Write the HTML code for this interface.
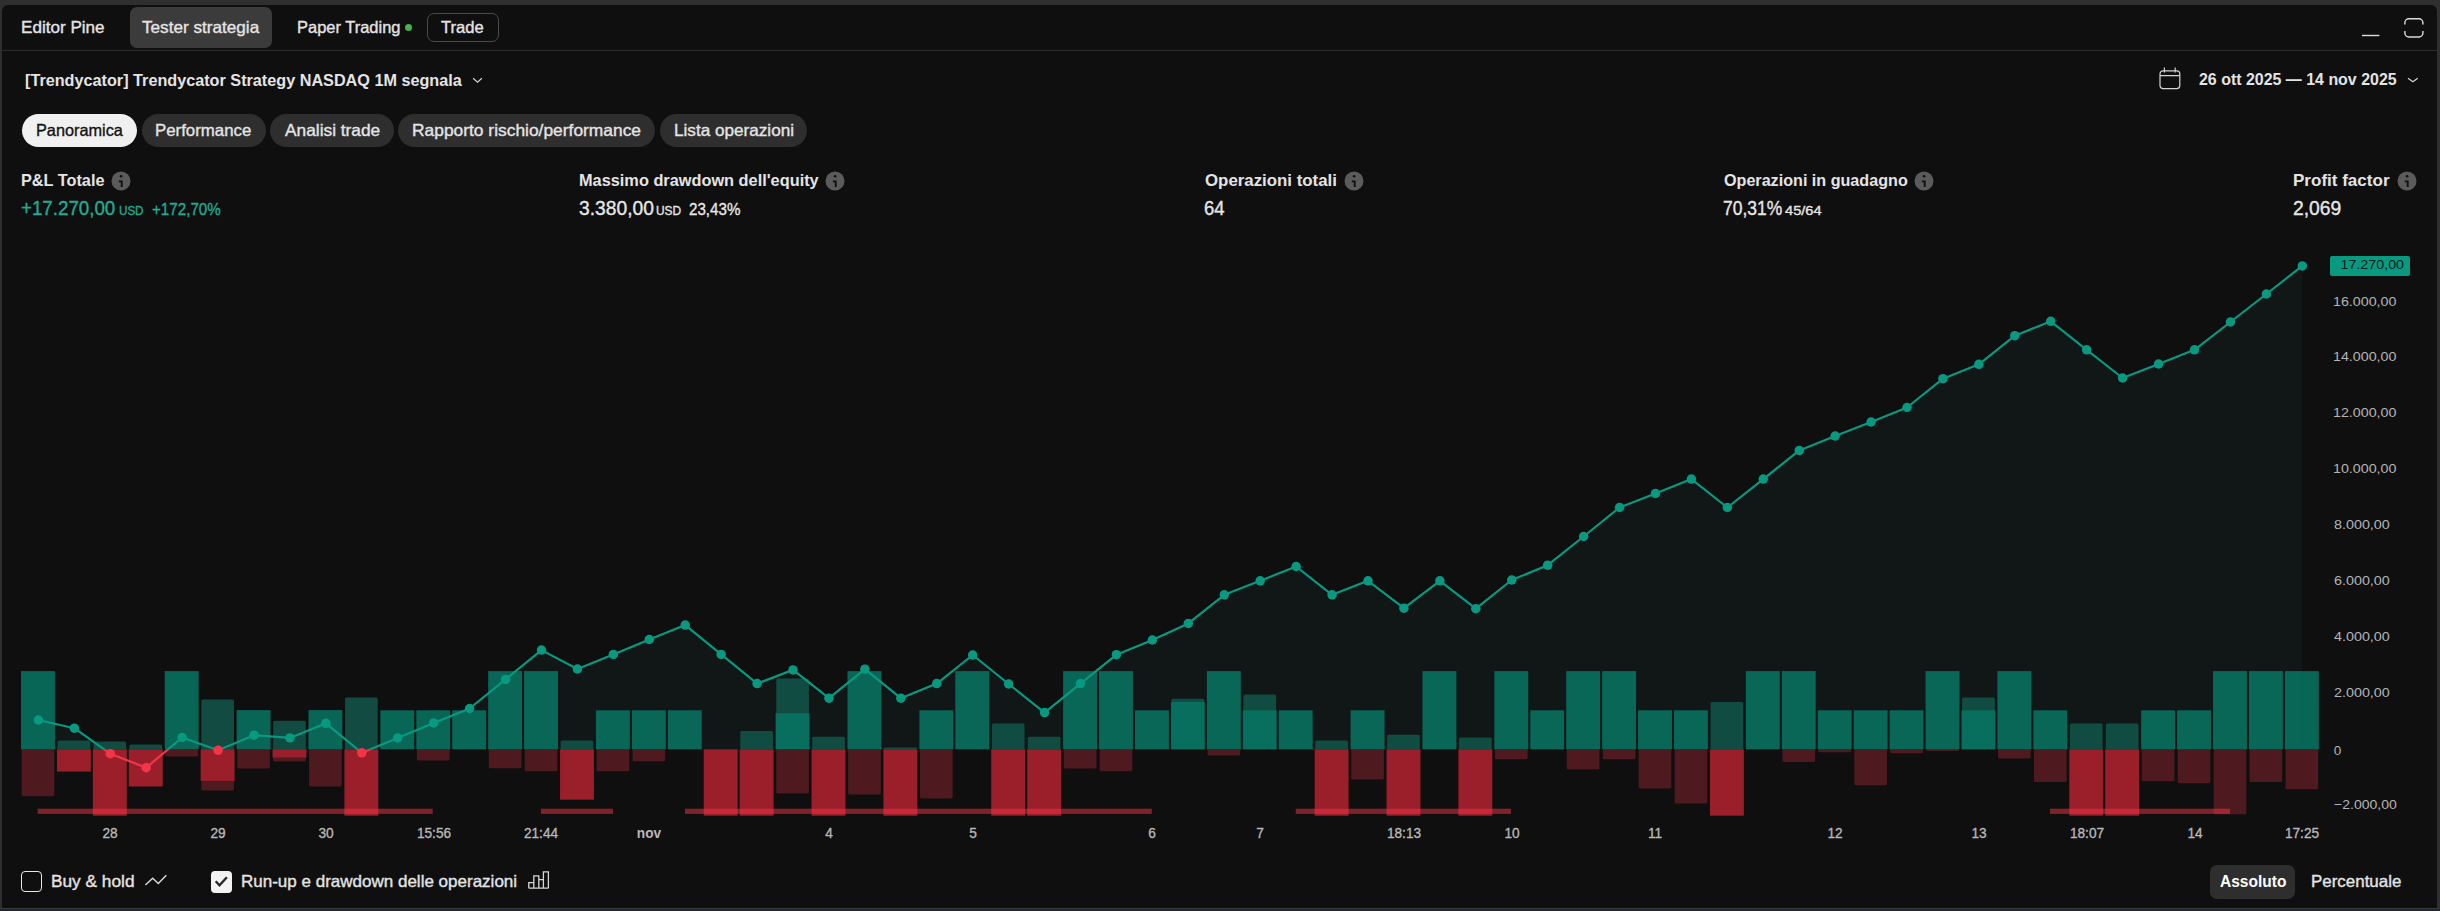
<!DOCTYPE html>
<html><head><meta charset="utf-8"><style>html,body{margin:0;padding:0;background:#2f2f2f;width:2440px;height:911px;overflow:hidden}
body{position:relative;font-family:"Liberation Sans",sans-serif}
.t{position:absolute;white-space:nowrap}
.r{-webkit-text-stroke:0.35px currentColor}</style></head><body>
<div style="position:absolute;left:2px;top:5px;width:2435px;height:903px;background:#0f0f0f;border-radius:6px 6px 0 0"></div>
<div style="position:absolute;left:0;top:907.8px;width:2440px;height:1.4px;background:#3a3a3a"></div>
<div style="position:absolute;left:0;top:909.2px;width:2440px;height:2px;background:#1c2839"></div>
<div style="position:absolute;left:2px;top:50px;width:2435px;height:1px;background:#2e2e2e"></div>
<div style="position:absolute;left:130px;top:7px;width:142px;height:41px;background:#3b3b3b;border-radius:7px"></div>
<div style="position:absolute;left:404.8px;top:23.9px;width:7.2px;height:7.2px;border-radius:50%;background:#4caf50"></div>
<div style="position:absolute;left:427px;top:13px;width:70px;height:27px;border:1px solid #4a4a4a;border-radius:7px"></div>
<svg style="position:absolute;left:2350px;top:10px" width="90" height="35" viewBox="0 0 90 35"><path d="M12 25.5h17.4" stroke="#dcdcdc" stroke-width="1.4"/><path d="M54.9 14.4V12.8A4 4 0 0 1 58.9 8.8H68.9A4 4 0 0 1 72.9 12.8V14.4 M54.9 20.9V23A4 4 0 0 0 58.9 27H68.9A4 4 0 0 0 72.9 23V20.9" fill="none" stroke="#dcdcdc" stroke-width="1.4"/></svg>
<svg style="position:absolute;left:470px;top:74px" width="14" height="12" viewBox="0 0 14 12"><path d="M3.1 4.3l4.4 3.8 4.4-3.8" fill="none" stroke="#d4d4d4" stroke-width="1.2"/></svg>
<svg style="position:absolute;left:2155px;top:64px" width="30" height="30" viewBox="0 0 30 30"><rect x="5" y="6.8" width="19.8" height="17.8" rx="3" fill="none" stroke="#d4d4d4" stroke-width="1.2"/><path d="M5 11.6h19.8 M9.4 3.6v5 M20.2 3.6v5" stroke="#d4d4d4" stroke-width="1.2"/></svg>
<svg style="position:absolute;left:2404px;top:72px" width="16" height="14" viewBox="0 0 16 14"><path d="M4 6.2l4.9 3.6 4.8-3.6" fill="none" stroke="#d4d4d4" stroke-width="1.2"/></svg>
<div style="position:absolute;left:22px;top:114px;width:115px;height:33px;border-radius:16.5px;background:#f0f0f0"></div>
<div style="position:absolute;left:142.1px;top:114px;width:123.5px;height:33px;border-radius:16.5px;background:#2e2e2e"></div>
<div style="position:absolute;left:270px;top:114px;width:123.5px;height:33px;border-radius:16.5px;background:#2e2e2e"></div>
<div style="position:absolute;left:398.1px;top:114px;width:256.6px;height:33px;border-radius:16.5px;background:#2e2e2e"></div>
<div style="position:absolute;left:660.2px;top:114px;width:146.8px;height:33px;border-radius:16.5px;background:#2e2e2e"></div>
<svg style="position:absolute;left:110.7px;top:170.7px" width="20" height="20" viewBox="0 0 20 20"><circle cx="10" cy="10" r="9.5" fill="#5b5b5b"/><circle cx="10.1" cy="5.3" r="1.3" fill="#0f0f0f"/><path d="M7.8 10.4H10.7V16.1" fill="none" stroke="#0f0f0f" stroke-width="1.9"/></svg>
<svg style="position:absolute;left:824.7px;top:170.7px" width="20" height="20" viewBox="0 0 20 20"><circle cx="10" cy="10" r="9.5" fill="#5b5b5b"/><circle cx="10.1" cy="5.3" r="1.3" fill="#0f0f0f"/><path d="M7.8 10.4H10.7V16.1" fill="none" stroke="#0f0f0f" stroke-width="1.9"/></svg>
<svg style="position:absolute;left:1343.6px;top:170.7px" width="20" height="20" viewBox="0 0 20 20"><circle cx="10" cy="10" r="9.5" fill="#5b5b5b"/><circle cx="10.1" cy="5.3" r="1.3" fill="#0f0f0f"/><path d="M7.8 10.4H10.7V16.1" fill="none" stroke="#0f0f0f" stroke-width="1.9"/></svg>
<svg style="position:absolute;left:1914px;top:170.7px" width="20" height="20" viewBox="0 0 20 20"><circle cx="10" cy="10" r="9.5" fill="#5b5b5b"/><circle cx="10.1" cy="5.3" r="1.3" fill="#0f0f0f"/><path d="M7.8 10.4H10.7V16.1" fill="none" stroke="#0f0f0f" stroke-width="1.9"/></svg>
<svg style="position:absolute;left:2396.7px;top:170.7px" width="20" height="20" viewBox="0 0 20 20"><circle cx="10" cy="10" r="9.5" fill="#5b5b5b"/><circle cx="10.1" cy="5.3" r="1.3" fill="#0f0f0f"/><path d="M7.8 10.4H10.7V16.1" fill="none" stroke="#0f0f0f" stroke-width="1.9"/></svg>
<div style="position:absolute;left:21px;top:871px;width:19px;height:19px;border:1.5px solid #e8e8e8;border-radius:4px"></div>
<svg style="position:absolute;left:140px;top:865px" width="30" height="30" viewBox="0 0 30 30"><path d="M5.4 20.1L12.7 13.2 18.3 18.4 26.3 10.2" fill="none" stroke="#dcdcdc" stroke-width="1.4"/></svg>
<div style="position:absolute;left:211px;top:871px;width:21px;height:22px;background:#f2f2f2;border-radius:4px"></div>
<svg style="position:absolute;left:205px;top:865px" width="30" height="30" viewBox="0 0 30 30"><path d="M10.7 16.3L14.5 20.3 21.9 12.2" fill="none" stroke="#262626" stroke-width="2.3"/></svg>
<svg style="position:absolute;left:520px;top:865px" width="40" height="30" viewBox="0 0 40 30" fill="none" stroke="#d8d8d8" stroke-width="1.3"><path d="M8.8 23.2V17.6h5v5.6 M13.8 23.2V10.8h5v12.4 M18.8 23.2V14.6h4.6v8.6 M23.4 23.2V6.8h5v16.4 M8.8 23.2h19.6"/></svg>
<div style="position:absolute;left:2210px;top:865px;width:85px;height:34px;background:#2e2e2e;border-radius:7px"></div>
<svg class="chart" width="2440" height="911" viewBox="0 0 2440 911" style="position:absolute;left:0;top:0">
<defs><linearGradient id="gb" gradientUnits="userSpaceOnUse" x1="0" y1="671" x2="0" y2="749"><stop offset="0" stop-color="#0a6d5c"/><stop offset="1" stop-color="#076253"/></linearGradient><clipPath id="cu"><rect x="0" y="0" width="2440" height="749.3"/></clipPath><clipPath id="cd"><rect x="0" y="749.3" width="2440" height="300"/></clipPath></defs>
<polygon points="38.4,749.3 38.4,720 74.34,728.2 110.27,753.7 146.21,767.7 182.14,737.5 218.08,750.2 254.01,735.2 289.94,737.9 325.88,723.3 361.81,752.8 397.75,737.9 433.69,722.9 469.62,708.5 505.56,679.4 541.49,650.1 577.43,669 613.36,654.4 649.29,639.5 685.23,625.1 721.17,654.4 757.1,683.6 793.03,669.9 828.97,698.2 864.91,669.2 900.84,698.2 936.77,683.6 972.71,655 1008.65,684 1044.58,712.6 1080.52,683.6 1116.45,654.7 1152.39,640 1188.32,623.4 1224.26,594.8 1260.19,580.8 1296.13,566.5 1332.06,594.8 1368,580.8 1403.93,608.2 1439.87,580.8 1475.8,608.7 1511.74,580 1547.67,565.2 1583.61,536.5 1619.54,507.5 1655.48,493.5 1691.41,479.1 1727.35,507.5 1763.28,479.1 1799.22,450.4 1835.15,436 1871.09,422 1907.02,407.5 1942.96,378.7 1978.89,364.3 2014.83,335.7 2050.76,321.3 2086.7,349.8 2122.63,378 2158.57,364 2194.5,349.8 2230.44,322 2266.37,294 2302.31,265.9 2302.31,749.3" fill="#111717"/>
<path d="M21.6 749.3V794.7Q21.6 796.2 23.1 796.2H52.8Q54.3 796.2 54.3 794.7V749.3Z" fill="#4e191f"/>
<rect x="21" y="671.1" width="33.9" height="78.2" fill="#077563" fill-opacity="0.85"/>
<path d="M57.54 749.3V742Q57.54 740.5 59.04 740.5H88.74Q90.24 740.5 90.24 742V749.3Z" fill="#12564a" fill-opacity="0.85"/>
<rect x="56.94" y="749.3" width="33.9" height="22.3" fill="#9b1f2a"/>
<path d="M93.47 749.3V743.1Q93.47 741.6 94.97 741.6H124.67Q126.17 741.6 126.17 743.1V749.3Z" fill="#12564a" fill-opacity="0.85"/>
<rect x="92.87" y="749.3" width="33.9" height="66.4" fill="#9b1f2a"/>
<path d="M129.41 749.3V746.1Q129.41 744.6 130.91 744.6H160.61Q162.11 744.6 162.11 746.1V749.3Z" fill="#12564a" fill-opacity="0.85"/>
<rect x="128.81" y="749.3" width="33.9" height="37.2" fill="#9b1f2a"/>
<path d="M165.34 749.3V755Q165.34 756.5 166.84 756.5H196.54Q198.04 756.5 198.04 755V749.3Z" fill="#4e191f"/>
<rect x="164.74" y="671.1" width="33.9" height="78.2" fill="#077563" fill-opacity="0.85"/>
<path d="M201.28 749.3V789.1Q201.28 790.6 202.78 790.6H232.48Q233.98 790.6 233.98 789.1V749.3Z" fill="#4e191f"/>
<path d="M201.28 749.3V700.9Q201.28 699.4 202.78 699.4H232.48Q233.98 699.4 233.98 700.9V749.3Z" fill="#12564a" fill-opacity="0.85"/>
<rect x="200.68" y="749.3" width="33.9" height="31.6" fill="#9b1f2a"/>
<path d="M237.21 749.3V767.1Q237.21 768.6 238.71 768.6H268.41Q269.91 768.6 269.91 767.1V749.3Z" fill="#4e191f"/>
<rect x="236.61" y="710.1" width="33.9" height="39.2" fill="#077563" fill-opacity="0.85"/>
<path d="M273.15 749.3V760.1Q273.15 761.6 274.65 761.6H304.34Q305.84 761.6 305.84 760.1V749.3Z" fill="#4e191f"/>
<path d="M273.15 749.3V722.2Q273.15 720.7 274.65 720.7H304.34Q305.84 720.7 305.84 722.2V749.3Z" fill="#12564a" fill-opacity="0.85"/>
<rect x="272.55" y="749.3" width="33.9" height="8.3" fill="#9b1f2a"/>
<path d="M309.08 749.3V785Q309.08 786.5 310.58 786.5H340.28Q341.78 786.5 341.78 785V749.3Z" fill="#4e191f"/>
<rect x="308.48" y="710.1" width="33.9" height="39.2" fill="#077563" fill-opacity="0.85"/>
<path d="M345.02 749.3V699Q345.02 697.5 346.52 697.5H376.21Q377.71 697.5 377.71 699V749.3Z" fill="#12564a" fill-opacity="0.85"/>
<rect x="344.42" y="749.3" width="33.9" height="66.4" fill="#9b1f2a"/>
<rect x="380.35" y="710.3" width="33.9" height="39" fill="#077563" fill-opacity="0.85"/>
<path d="M416.89 749.3V758.9Q416.89 760.4 418.39 760.4H448.08Q449.58 760.4 449.58 758.9V749.3Z" fill="#4e191f"/>
<rect x="416.29" y="710.3" width="33.9" height="39" fill="#077563" fill-opacity="0.85"/>
<rect x="452.22" y="710.3" width="33.9" height="39" fill="#077563" fill-opacity="0.85"/>
<path d="M488.76 749.3V766.8Q488.76 768.3 490.26 768.3H519.96Q521.46 768.3 521.46 766.8V749.3Z" fill="#4e191f"/>
<rect x="488.16" y="671.1" width="33.9" height="78.2" fill="#077563" fill-opacity="0.85"/>
<path d="M524.69 749.3V769.8Q524.69 771.3 526.19 771.3H555.89Q557.39 771.3 557.39 769.8V749.3Z" fill="#4e191f"/>
<rect x="524.09" y="671.1" width="33.9" height="78.2" fill="#077563" fill-opacity="0.85"/>
<path d="M560.63 749.3V742Q560.63 740.5 562.13 740.5H591.83Q593.33 740.5 593.33 742V749.3Z" fill="#12564a" fill-opacity="0.85"/>
<rect x="560.03" y="749.3" width="33.9" height="50.4" fill="#9b1f2a"/>
<path d="M596.56 749.3V769.8Q596.56 771.3 598.06 771.3H627.76Q629.26 771.3 629.26 769.8V749.3Z" fill="#4e191f"/>
<rect x="595.96" y="710.3" width="33.9" height="39" fill="#077563" fill-opacity="0.85"/>
<path d="M632.5 749.3V759.7Q632.5 761.2 634 761.2H663.69Q665.19 761.2 665.19 759.7V749.3Z" fill="#4e191f"/>
<rect x="631.89" y="710.3" width="33.9" height="39" fill="#077563" fill-opacity="0.85"/>
<rect x="667.83" y="710.3" width="33.9" height="39" fill="#077563" fill-opacity="0.85"/>
<rect x="703.77" y="749.3" width="33.9" height="66.4" fill="#9b1f2a"/>
<path d="M740.3 749.3V732.4Q740.3 730.9 741.8 730.9H771.5Q773 730.9 773 732.4V749.3Z" fill="#12564a" fill-opacity="0.85"/>
<rect x="739.7" y="749.3" width="33.9" height="66.4" fill="#9b1f2a"/>
<path d="M776.24 749.3V680Q776.24 678.5 777.74 678.5H807.43Q808.93 678.5 808.93 680V749.3Z" fill="#12564a" fill-opacity="0.85"/>
<path d="M776.24 749.3V792.1Q776.24 793.6 777.74 793.6H807.43Q808.93 793.6 808.93 792.1V749.3Z" fill="#4e191f"/>
<rect x="775.63" y="713.3" width="33.9" height="36" fill="#077563" fill-opacity="0.85"/>
<path d="M812.17 749.3V738.2Q812.17 736.7 813.67 736.7H843.37Q844.87 736.7 844.87 738.2V749.3Z" fill="#12564a" fill-opacity="0.85"/>
<rect x="811.57" y="749.3" width="33.9" height="66.4" fill="#9b1f2a"/>
<path d="M848.11 749.3V792.9Q848.11 794.4 849.61 794.4H879.31Q880.81 794.4 880.81 792.9V749.3Z" fill="#4e191f"/>
<rect x="847.51" y="671.1" width="33.9" height="78.2" fill="#077563" fill-opacity="0.85"/>
<path d="M884.04 749.3V748.4Q884.04 747.5 884.94 747.5H915.84Q916.74 747.5 916.74 748.4V749.3Z" fill="#12564a" fill-opacity="0.85"/>
<rect x="883.44" y="749.3" width="33.9" height="66.4" fill="#9b1f2a"/>
<path d="M919.98 749.3V797Q919.98 798.5 921.48 798.5H951.17Q952.67 798.5 952.67 797V749.3Z" fill="#4e191f"/>
<rect x="919.38" y="710.3" width="33.9" height="39" fill="#077563" fill-opacity="0.85"/>
<rect x="955.31" y="671.1" width="33.9" height="78.2" fill="#077563" fill-opacity="0.85"/>
<path d="M991.85 749.3V725Q991.85 723.5 993.35 723.5H1023.05Q1024.55 723.5 1024.55 725V749.3Z" fill="#12564a" fill-opacity="0.85"/>
<rect x="991.25" y="749.3" width="33.9" height="66.4" fill="#9b1f2a"/>
<path d="M1027.78 749.3V738.2Q1027.78 736.7 1029.28 736.7H1058.98Q1060.48 736.7 1060.48 738.2V749.3Z" fill="#12564a" fill-opacity="0.85"/>
<rect x="1027.18" y="749.3" width="33.9" height="66.4" fill="#9b1f2a"/>
<path d="M1063.71 749.3V767.1Q1063.71 768.6 1065.21 768.6H1094.92Q1096.42 768.6 1096.42 767.1V749.3Z" fill="#4e191f"/>
<rect x="1063.12" y="671.1" width="33.9" height="78.2" fill="#077563" fill-opacity="0.85"/>
<path d="M1099.65 749.3V769.8Q1099.65 771.3 1101.15 771.3H1130.85Q1132.35 771.3 1132.35 769.8V749.3Z" fill="#4e191f"/>
<rect x="1099.05" y="671.1" width="33.9" height="78.2" fill="#077563" fill-opacity="0.85"/>
<rect x="1134.99" y="710.3" width="33.9" height="39" fill="#077563" fill-opacity="0.85"/>
<path d="M1171.52 749.3V700.2Q1171.52 698.7 1173.02 698.7H1202.72Q1204.22 698.7 1204.22 700.2V749.3Z" fill="#12564a" fill-opacity="0.85"/>
<rect x="1170.92" y="701.9" width="33.9" height="47.4" fill="#077563" fill-opacity="0.85"/>
<path d="M1207.45 749.3V753.9Q1207.45 755.4 1208.95 755.4H1238.66Q1240.16 755.4 1240.16 753.9V749.3Z" fill="#4e191f"/>
<rect x="1206.86" y="671.1" width="33.9" height="78.2" fill="#077563" fill-opacity="0.85"/>
<path d="M1243.39 749.3V696Q1243.39 694.5 1244.89 694.5H1274.59Q1276.09 694.5 1276.09 696V749.3Z" fill="#12564a" fill-opacity="0.85"/>
<rect x="1242.79" y="710.3" width="33.9" height="39" fill="#077563" fill-opacity="0.85"/>
<rect x="1278.73" y="710.3" width="33.9" height="39" fill="#077563" fill-opacity="0.85"/>
<path d="M1315.26 749.3V742Q1315.26 740.5 1316.76 740.5H1346.46Q1347.96 740.5 1347.96 742V749.3Z" fill="#12564a" fill-opacity="0.85"/>
<rect x="1314.66" y="749.3" width="33.9" height="66.4" fill="#9b1f2a"/>
<path d="M1351.19 749.3V778Q1351.19 779.5 1352.69 779.5H1382.4Q1383.9 779.5 1383.9 778V749.3Z" fill="#4e191f"/>
<rect x="1350.6" y="710.3" width="33.9" height="39" fill="#077563" fill-opacity="0.85"/>
<path d="M1387.13 749.3V736.2Q1387.13 734.7 1388.63 734.7H1418.33Q1419.83 734.7 1419.83 736.2V749.3Z" fill="#12564a" fill-opacity="0.85"/>
<rect x="1386.53" y="749.3" width="33.9" height="66.4" fill="#9b1f2a"/>
<rect x="1422.47" y="671.1" width="33.9" height="78.2" fill="#077563" fill-opacity="0.85"/>
<path d="M1459 749.3V738.9Q1459 737.4 1460.5 737.4H1490.2Q1491.7 737.4 1491.7 738.9V749.3Z" fill="#12564a" fill-opacity="0.85"/>
<rect x="1458.4" y="749.3" width="33.9" height="66.4" fill="#9b1f2a"/>
<path d="M1494.93 749.3V757.8Q1494.93 759.3 1496.43 759.3H1526.14Q1527.64 759.3 1527.64 757.8V749.3Z" fill="#4e191f"/>
<rect x="1494.34" y="671.1" width="33.9" height="78.2" fill="#077563" fill-opacity="0.85"/>
<rect x="1530.27" y="710.3" width="33.9" height="39" fill="#077563" fill-opacity="0.85"/>
<path d="M1566.81 749.3V768Q1566.81 769.5 1568.31 769.5H1598.01Q1599.51 769.5 1599.51 768V749.3Z" fill="#4e191f"/>
<rect x="1566.21" y="671.1" width="33.9" height="78.2" fill="#077563" fill-opacity="0.85"/>
<path d="M1602.74 749.3V757.8Q1602.74 759.3 1604.24 759.3H1633.94Q1635.44 759.3 1635.44 757.8V749.3Z" fill="#4e191f"/>
<rect x="1602.14" y="671.1" width="33.9" height="78.2" fill="#077563" fill-opacity="0.85"/>
<path d="M1638.67 749.3V787Q1638.67 788.5 1640.17 788.5H1669.88Q1671.38 788.5 1671.38 787V749.3Z" fill="#4e191f"/>
<rect x="1638.08" y="710.3" width="33.9" height="39" fill="#077563" fill-opacity="0.85"/>
<path d="M1674.61 749.3V801.9Q1674.61 803.4 1676.11 803.4H1705.81Q1707.31 803.4 1707.31 801.9V749.3Z" fill="#4e191f"/>
<rect x="1674.01" y="710.3" width="33.9" height="39" fill="#077563" fill-opacity="0.85"/>
<path d="M1710.55 749.3V703.4Q1710.55 701.9 1712.05 701.9H1741.75Q1743.25 701.9 1743.25 703.4V749.3Z" fill="#12564a" fill-opacity="0.85"/>
<rect x="1709.95" y="749.3" width="33.9" height="66.4" fill="#9b1f2a"/>
<rect x="1745.88" y="671.1" width="33.9" height="78.2" fill="#077563" fill-opacity="0.85"/>
<path d="M1782.41 749.3V760.6Q1782.41 762.1 1783.91 762.1H1813.62Q1815.12 762.1 1815.12 760.6V749.3Z" fill="#4e191f"/>
<rect x="1781.82" y="671.1" width="33.9" height="78.2" fill="#077563" fill-opacity="0.85"/>
<path d="M1818.35 749.3V750.8Q1818.35 752.3 1819.85 752.3H1849.55Q1851.05 752.3 1851.05 750.8V749.3Z" fill="#4e191f"/>
<rect x="1817.75" y="710.3" width="33.9" height="39" fill="#077563" fill-opacity="0.85"/>
<path d="M1854.29 749.3V783.8Q1854.29 785.3 1855.79 785.3H1885.49Q1886.99 785.3 1886.99 783.8V749.3Z" fill="#4e191f"/>
<rect x="1853.69" y="710.3" width="33.9" height="39" fill="#077563" fill-opacity="0.85"/>
<path d="M1890.22 749.3V751.8Q1890.22 753.3 1891.72 753.3H1921.42Q1922.92 753.3 1922.92 751.8V749.3Z" fill="#4e191f"/>
<rect x="1889.62" y="710.3" width="33.9" height="39" fill="#077563" fill-opacity="0.85"/>
<path d="M1926.15 749.3V750.2Q1926.15 751.1 1927.06 751.1H1957.96Q1958.86 751.1 1958.86 750.2V749.3Z" fill="#4e191f"/>
<rect x="1925.56" y="671.1" width="33.9" height="78.2" fill="#077563" fill-opacity="0.85"/>
<path d="M1962.09 749.3V699Q1962.09 697.5 1963.59 697.5H1993.29Q1994.79 697.5 1994.79 699V749.3Z" fill="#12564a" fill-opacity="0.85"/>
<rect x="1961.49" y="710.3" width="33.9" height="39" fill="#077563" fill-opacity="0.85"/>
<path d="M1998.03 749.3V756.9Q1998.03 758.4 1999.53 758.4H2029.23Q2030.73 758.4 2030.73 756.9V749.3Z" fill="#4e191f"/>
<rect x="1997.43" y="671.1" width="33.9" height="78.2" fill="#077563" fill-opacity="0.85"/>
<path d="M2033.96 749.3V780.6Q2033.96 782.1 2035.46 782.1H2065.16Q2066.66 782.1 2066.66 780.6V749.3Z" fill="#4e191f"/>
<rect x="2033.36" y="710.3" width="33.9" height="39" fill="#077563" fill-opacity="0.85"/>
<path d="M2069.89 749.3V725Q2069.89 723.5 2071.39 723.5H2101.1Q2102.6 723.5 2102.6 725V749.3Z" fill="#12564a" fill-opacity="0.85"/>
<rect x="2069.3" y="749.3" width="33.9" height="66.4" fill="#9b1f2a"/>
<path d="M2105.83 749.3V725Q2105.83 723.5 2107.33 723.5H2137.03Q2138.53 723.5 2138.53 725V749.3Z" fill="#12564a" fill-opacity="0.85"/>
<rect x="2105.23" y="749.3" width="33.9" height="66.4" fill="#9b1f2a"/>
<path d="M2141.76 749.3V779.8Q2141.76 781.3 2143.26 781.3H2172.97Q2174.47 781.3 2174.47 779.8V749.3Z" fill="#4e191f"/>
<rect x="2141.16" y="710.3" width="33.9" height="39" fill="#077563" fill-opacity="0.85"/>
<path d="M2177.7 749.3V781.7Q2177.7 783.2 2179.2 783.2H2208.9Q2210.4 783.2 2210.4 781.7V749.3Z" fill="#4e191f"/>
<rect x="2177.1" y="710.3" width="33.9" height="39" fill="#077563" fill-opacity="0.85"/>
<path d="M2213.64 749.3V812.8Q2213.64 814.3 2215.14 814.3H2244.84Q2246.34 814.3 2246.34 812.8V749.3Z" fill="#4e191f"/>
<rect x="2213.04" y="671.1" width="33.9" height="78.2" fill="#077563" fill-opacity="0.85"/>
<path d="M2249.57 749.3V780.6Q2249.57 782.1 2251.07 782.1H2280.77Q2282.27 782.1 2282.27 780.6V749.3Z" fill="#4e191f"/>
<rect x="2248.97" y="671.1" width="33.9" height="78.2" fill="#077563" fill-opacity="0.85"/>
<path d="M2285.51 749.3V787.7Q2285.51 789.2 2287.01 789.2H2316.71Q2318.21 789.2 2318.21 787.7V749.3Z" fill="#4e191f"/>
<rect x="2284.91" y="671.1" width="33.9" height="78.2" fill="#077563" fill-opacity="0.85"/>
<rect x="37.6" y="808.7" width="395.1" height="5.2" fill="#f23645" fill-opacity="0.5"/>
<rect x="540.9" y="808.7" width="72.1" height="5.2" fill="#f23645" fill-opacity="0.5"/>
<rect x="685" y="808.7" width="466.8" height="5.2" fill="#f23645" fill-opacity="0.5"/>
<rect x="1295.8" y="808.7" width="215.1" height="5.2" fill="#f23645" fill-opacity="0.5"/>
<rect x="2050" y="808.7" width="180" height="5.2" fill="#f23645" fill-opacity="0.5"/>
<polyline points="38.4,720 74.34,728.2 110.27,753.7 146.21,767.7 182.14,737.5 218.08,750.2 254.01,735.2 289.94,737.9 325.88,723.3 361.81,752.8 397.75,737.9 433.69,722.9 469.62,708.5 505.56,679.4 541.49,650.1 577.43,669 613.36,654.4 649.29,639.5 685.23,625.1 721.17,654.4 757.1,683.6 793.03,669.9 828.97,698.2 864.91,669.2 900.84,698.2 936.77,683.6 972.71,655 1008.65,684 1044.58,712.6 1080.52,683.6 1116.45,654.7 1152.39,640 1188.32,623.4 1224.26,594.8 1260.19,580.8 1296.13,566.5 1332.06,594.8 1368,580.8 1403.93,608.2 1439.87,580.8 1475.8,608.7 1511.74,580 1547.67,565.2 1583.61,536.5 1619.54,507.5 1655.48,493.5 1691.41,479.1 1727.35,507.5 1763.28,479.1 1799.22,450.4 1835.15,436 1871.09,422 1907.02,407.5 1942.96,378.7 1978.89,364.3 2014.83,335.7 2050.76,321.3 2086.7,349.8 2122.63,378 2158.57,364 2194.5,349.8 2230.44,322 2266.37,294 2302.31,265.9" fill="none" stroke="#089981" stroke-width="2.2" stroke-linejoin="round" clip-path="url(#cu)"/>
<polyline points="38.4,720 74.34,728.2 110.27,753.7 146.21,767.7 182.14,737.5 218.08,750.2 254.01,735.2 289.94,737.9 325.88,723.3 361.81,752.8 397.75,737.9 433.69,722.9 469.62,708.5 505.56,679.4 541.49,650.1 577.43,669 613.36,654.4 649.29,639.5 685.23,625.1 721.17,654.4 757.1,683.6 793.03,669.9 828.97,698.2 864.91,669.2 900.84,698.2 936.77,683.6 972.71,655 1008.65,684 1044.58,712.6 1080.52,683.6 1116.45,654.7 1152.39,640 1188.32,623.4 1224.26,594.8 1260.19,580.8 1296.13,566.5 1332.06,594.8 1368,580.8 1403.93,608.2 1439.87,580.8 1475.8,608.7 1511.74,580 1547.67,565.2 1583.61,536.5 1619.54,507.5 1655.48,493.5 1691.41,479.1 1727.35,507.5 1763.28,479.1 1799.22,450.4 1835.15,436 1871.09,422 1907.02,407.5 1942.96,378.7 1978.89,364.3 2014.83,335.7 2050.76,321.3 2086.7,349.8 2122.63,378 2158.57,364 2194.5,349.8 2230.44,322 2266.37,294 2302.31,265.9" fill="none" stroke="#f23645" stroke-width="2.2" stroke-linejoin="round" clip-path="url(#cd)"/>
<circle cx="38.4" cy="720" r="4.75" fill="#089981"/>
<circle cx="74.34" cy="728.2" r="4.75" fill="#089981"/>
<circle cx="110.27" cy="753.7" r="4.75" fill="#f23645"/>
<circle cx="146.21" cy="767.7" r="4.75" fill="#f23645"/>
<circle cx="182.14" cy="737.5" r="4.75" fill="#089981"/>
<circle cx="218.08" cy="750.2" r="4.75" fill="#f23645"/>
<circle cx="254.01" cy="735.2" r="4.75" fill="#089981"/>
<circle cx="289.94" cy="737.9" r="4.75" fill="#089981"/>
<circle cx="325.88" cy="723.3" r="4.75" fill="#089981"/>
<circle cx="361.81" cy="752.8" r="4.75" fill="#f23645"/>
<circle cx="397.75" cy="737.9" r="4.75" fill="#089981"/>
<circle cx="433.69" cy="722.9" r="4.75" fill="#089981"/>
<circle cx="469.62" cy="708.5" r="4.75" fill="#089981"/>
<circle cx="505.56" cy="679.4" r="4.75" fill="#089981"/>
<circle cx="541.49" cy="650.1" r="4.75" fill="#089981"/>
<circle cx="577.43" cy="669" r="4.75" fill="#089981"/>
<circle cx="613.36" cy="654.4" r="4.75" fill="#089981"/>
<circle cx="649.29" cy="639.5" r="4.75" fill="#089981"/>
<circle cx="685.23" cy="625.1" r="4.75" fill="#089981"/>
<circle cx="721.17" cy="654.4" r="4.75" fill="#089981"/>
<circle cx="757.1" cy="683.6" r="4.75" fill="#089981"/>
<circle cx="793.03" cy="669.9" r="4.75" fill="#089981"/>
<circle cx="828.97" cy="698.2" r="4.75" fill="#089981"/>
<circle cx="864.91" cy="669.2" r="4.75" fill="#089981"/>
<circle cx="900.84" cy="698.2" r="4.75" fill="#089981"/>
<circle cx="936.77" cy="683.6" r="4.75" fill="#089981"/>
<circle cx="972.71" cy="655" r="4.75" fill="#089981"/>
<circle cx="1008.65" cy="684" r="4.75" fill="#089981"/>
<circle cx="1044.58" cy="712.6" r="4.75" fill="#089981"/>
<circle cx="1080.52" cy="683.6" r="4.75" fill="#089981"/>
<circle cx="1116.45" cy="654.7" r="4.75" fill="#089981"/>
<circle cx="1152.39" cy="640" r="4.75" fill="#089981"/>
<circle cx="1188.32" cy="623.4" r="4.75" fill="#089981"/>
<circle cx="1224.26" cy="594.8" r="4.75" fill="#089981"/>
<circle cx="1260.19" cy="580.8" r="4.75" fill="#089981"/>
<circle cx="1296.13" cy="566.5" r="4.75" fill="#089981"/>
<circle cx="1332.06" cy="594.8" r="4.75" fill="#089981"/>
<circle cx="1368" cy="580.8" r="4.75" fill="#089981"/>
<circle cx="1403.93" cy="608.2" r="4.75" fill="#089981"/>
<circle cx="1439.87" cy="580.8" r="4.75" fill="#089981"/>
<circle cx="1475.8" cy="608.7" r="4.75" fill="#089981"/>
<circle cx="1511.74" cy="580" r="4.75" fill="#089981"/>
<circle cx="1547.67" cy="565.2" r="4.75" fill="#089981"/>
<circle cx="1583.61" cy="536.5" r="4.75" fill="#089981"/>
<circle cx="1619.54" cy="507.5" r="4.75" fill="#089981"/>
<circle cx="1655.48" cy="493.5" r="4.75" fill="#089981"/>
<circle cx="1691.41" cy="479.1" r="4.75" fill="#089981"/>
<circle cx="1727.35" cy="507.5" r="4.75" fill="#089981"/>
<circle cx="1763.28" cy="479.1" r="4.75" fill="#089981"/>
<circle cx="1799.22" cy="450.4" r="4.75" fill="#089981"/>
<circle cx="1835.15" cy="436" r="4.75" fill="#089981"/>
<circle cx="1871.09" cy="422" r="4.75" fill="#089981"/>
<circle cx="1907.02" cy="407.5" r="4.75" fill="#089981"/>
<circle cx="1942.96" cy="378.7" r="4.75" fill="#089981"/>
<circle cx="1978.89" cy="364.3" r="4.75" fill="#089981"/>
<circle cx="2014.83" cy="335.7" r="4.75" fill="#089981"/>
<circle cx="2050.76" cy="321.3" r="4.75" fill="#089981"/>
<circle cx="2086.7" cy="349.8" r="4.75" fill="#089981"/>
<circle cx="2122.63" cy="378" r="4.75" fill="#089981"/>
<circle cx="2158.57" cy="364" r="4.75" fill="#089981"/>
<circle cx="2194.5" cy="349.8" r="4.75" fill="#089981"/>
<circle cx="2230.44" cy="322" r="4.75" fill="#089981"/>
<circle cx="2266.37" cy="294" r="4.75" fill="#089981"/>
<circle cx="2302.31" cy="265.9" r="4.75" fill="#089981"/>
<rect x="2330" y="256" width="80" height="20" rx="2" fill="#089981"/>
</svg>
<div class="t r" id="t0" style="left:20.9px;top:19.03px;font-size:16.5px;line-height:16.5px;font-weight:400;color:#e4e4e4;transform:scaleX(1.0354);transform-origin:left">Editor Pine</div>
<div class="t r" id="t1" style="left:142px;top:19.03px;font-size:16.5px;line-height:16.5px;font-weight:400;color:#e4e4e4;transform:scaleX(1.0389);transform-origin:left">Tester strategia</div>
<div class="t r" id="t2" style="left:297.2px;top:19.03px;font-size:16.5px;line-height:16.5px;font-weight:400;color:#e4e4e4;transform:scaleX(0.9980);transform-origin:left">Paper Trading</div>
<div class="t r" id="t3" style="left:441.3px;top:19.03px;font-size:16.5px;line-height:16.5px;font-weight:400;color:#e4e4e4;transform:scaleX(1.0071);transform-origin:left">Trade</div>
<div class="t" id="t4" style="left:24.7px;top:71.53px;font-size:16.5px;line-height:16.5px;font-weight:700;color:#e4e4e4;transform:scaleX(0.9822);transform-origin:left">[Trendycator] Trendycator Strategy NASDAQ 1M segnala</div>
<div class="t" id="t5" style="left:2198.8px;top:71.13px;font-size:16.5px;line-height:16.5px;font-weight:700;color:#e4e4e4;transform:scaleX(0.9662);transform-origin:left">26 ott 2025 — 14 nov 2025</div>
<div class="t r" id="t6" style="left:36.3px;top:121.93px;font-size:16.5px;line-height:16.5px;font-weight:400;color:#131313;transform:scaleX(0.9874);transform-origin:left">Panoramica</div>
<div class="t r" id="t7" style="left:155.2px;top:121.93px;font-size:16.5px;line-height:16.5px;font-weight:400;color:#e4e4e4;transform:scaleX(1.0194);transform-origin:left">Performance</div>
<div class="t r" id="t8" style="left:285.1px;top:121.93px;font-size:16.5px;line-height:16.5px;font-weight:400;color:#e4e4e4;transform:scaleX(1.0489);transform-origin:left">Analisi trade</div>
<div class="t r" id="t9" style="left:412.1px;top:121.93px;font-size:16.5px;line-height:16.5px;font-weight:400;color:#e4e4e4;transform:scaleX(1.0537);transform-origin:left">Rapporto rischio/performance</div>
<div class="t r" id="t10" style="left:673.6px;top:121.93px;font-size:16.5px;line-height:16.5px;font-weight:400;color:#e4e4e4;transform:scaleX(1.0386);transform-origin:left">Lista operazioni</div>
<div class="t" id="t11" style="left:20.5px;top:172.23px;font-size:16.5px;line-height:16.5px;font-weight:700;color:#e4e4e4;transform:scaleX(0.9857);transform-origin:left">P&amp;L Totale</div>
<div class="t" id="t12" style="left:578.5px;top:172.23px;font-size:16.5px;line-height:16.5px;font-weight:700;color:#e4e4e4;transform:scaleX(0.9892);transform-origin:left">Massimo drawdown dell'equity</div>
<div class="t" id="t13" style="left:1204.9px;top:172.23px;font-size:16.5px;line-height:16.5px;font-weight:700;color:#e4e4e4;transform:scaleX(1.0209);transform-origin:left">Operazioni totali</div>
<div class="t" id="t14" style="left:1723.5px;top:172.23px;font-size:16.5px;line-height:16.5px;font-weight:700;color:#e4e4e4;transform:scaleX(0.9777);transform-origin:left">Operazioni in guadagno</div>
<div class="t" id="t15" style="left:2292.8px;top:172.23px;font-size:16.5px;line-height:16.5px;font-weight:700;color:#e4e4e4;transform:scaleX(1.0323);transform-origin:left">Profit factor</div>
<div class="t r" id="t16" style="left:21.2px;top:199.09px;font-size:19.5px;line-height:19.5px;font-weight:400;color:#22ab94;transform:scaleX(0.9608);transform-origin:left">+17.270,00</div>
<div class="t r" id="t17" style="left:119px;top:203.57px;font-size:13.5px;line-height:13.5px;font-weight:400;color:#22ab94;transform:scaleX(0.8593);transform-origin:left">USD</div>
<div class="t r" id="t18" style="left:151.5px;top:201.78px;font-size:16.8px;line-height:16.8px;font-weight:400;color:#22ab94;transform:scaleX(0.9039);transform-origin:left">+172,70%</div>
<div class="t r" id="t19" style="left:578.8px;top:199.09px;font-size:19.5px;line-height:19.5px;font-weight:400;color:#e6e6e6;transform:scaleX(0.9867);transform-origin:left">3.380,00</div>
<div class="t r" id="t20" style="left:656.4px;top:203.57px;font-size:13.5px;line-height:13.5px;font-weight:400;color:#e6e6e6;transform:scaleX(0.8815);transform-origin:left">USD</div>
<div class="t r" id="t21" style="left:688.9px;top:200.93px;font-size:16.5px;line-height:16.5px;font-weight:400;color:#e6e6e6;transform:scaleX(0.9179);transform-origin:left">23,43%</div>
<div class="t r" id="t22" style="left:1203.9px;top:199.09px;font-size:19.5px;line-height:19.5px;font-weight:400;color:#e6e6e6;transform:scaleX(0.9476);transform-origin:left">64</div>
<div class="t r" id="t23" style="left:1722.5px;top:199.09px;font-size:19.5px;line-height:19.5px;font-weight:400;color:#e6e6e6;transform:scaleX(0.8954);transform-origin:left">70,31%</div>
<div class="t r" id="t24" style="left:1785.2px;top:203.57px;font-size:13.5px;line-height:13.5px;font-weight:400;color:#e6e6e6;transform:scaleX(1.0824);transform-origin:left">45/64</div>
<div class="t r" id="t25" style="left:2292.8px;top:199.09px;font-size:19.5px;line-height:19.5px;font-weight:400;color:#e6e6e6;transform:scaleX(0.9894);transform-origin:left">2,069</div>
<div class="t" id="t26" style="left:2332.8px;top:294.57px;font-size:13.5px;line-height:13.5px;font-weight:400;color:#b4b4b4;transform:scaleX(1.0559);transform-origin:left">16.000,00</div>
<div class="t" id="t27" style="left:2332.8px;top:350.47px;font-size:13.5px;line-height:13.5px;font-weight:400;color:#b4b4b4;transform:scaleX(1.0559);transform-origin:left">14.000,00</div>
<div class="t" id="t28" style="left:2332.8px;top:406.37px;font-size:13.5px;line-height:13.5px;font-weight:400;color:#b4b4b4;transform:scaleX(1.0559);transform-origin:left">12.000,00</div>
<div class="t" id="t29" style="left:2332.8px;top:462.37px;font-size:13.5px;line-height:13.5px;font-weight:400;color:#b4b4b4;transform:scaleX(1.0559);transform-origin:left">10.000,00</div>
<div class="t" id="t30" style="left:2333.8px;top:518.37px;font-size:13.5px;line-height:13.5px;font-weight:400;color:#b4b4b4;transform:scaleX(1.0615);transform-origin:left">8.000,00</div>
<div class="t" id="t31" style="left:2333.8px;top:574.27px;font-size:13.5px;line-height:13.5px;font-weight:400;color:#b4b4b4;transform:scaleX(1.0615);transform-origin:left">6.000,00</div>
<div class="t" id="t32" style="left:2333.8px;top:630.17px;font-size:13.5px;line-height:13.5px;font-weight:400;color:#b4b4b4;transform:scaleX(1.0615);transform-origin:left">4.000,00</div>
<div class="t" id="t33" style="left:2333.8px;top:685.57px;font-size:13.5px;line-height:13.5px;font-weight:400;color:#b4b4b4;transform:scaleX(1.0615);transform-origin:left">2.000,00</div>
<div class="t" id="t34" style="left:2333.8px;top:743.57px;font-size:13.5px;line-height:13.5px;font-weight:400;color:#b4b4b4;transform-origin:left">0</div>
<div class="t" id="t35" style="left:2333.8px;top:797.97px;font-size:13.5px;line-height:13.5px;font-weight:400;color:#b4b4b4;transform:scaleX(1.0383);transform-origin:left">−2.000,00</div>
<div class="t" id="t36" style="right:36.4px;top:258.37px;font-size:13.5px;line-height:13.5px;font-weight:400;color:#0e1a18;transform:scaleX(1.0593);transform-origin:right">17.270,00</div>
<div class="t r" id="t37" style="left:110.27px;top:825.4px;font-size:15px;line-height:15px;font-weight:400;color:#b8b8b8;transform:translateX(-50%) scaleX(0.9100);transform-origin:center">28</div>
<div class="t r" id="t38" style="left:218.08px;top:825.4px;font-size:15px;line-height:15px;font-weight:400;color:#b8b8b8;transform:translateX(-50%) scaleX(0.9100);transform-origin:center">29</div>
<div class="t r" id="t39" style="left:325.88px;top:825.4px;font-size:15px;line-height:15px;font-weight:400;color:#b8b8b8;transform:translateX(-50%) scaleX(0.9100);transform-origin:center">30</div>
<div class="t r" id="t40" style="left:433.69px;top:825.4px;font-size:15px;line-height:15px;font-weight:400;color:#b8b8b8;transform:translateX(-50%) scaleX(0.9100);transform-origin:center">15:56</div>
<div class="t r" id="t41" style="left:541.49px;top:825.4px;font-size:15px;line-height:15px;font-weight:400;color:#b8b8b8;transform:translateX(-50%) scaleX(0.9100);transform-origin:center">21:44</div>
<div class="t" id="t42" style="left:649.29px;top:825.4px;font-size:15px;line-height:15px;font-weight:700;color:#b8b8b8;transform:translateX(-50%) scaleX(0.9100);transform-origin:center">nov</div>
<div class="t r" id="t43" style="left:828.97px;top:825.4px;font-size:15px;line-height:15px;font-weight:400;color:#b8b8b8;transform:translateX(-50%) scaleX(0.9100);transform-origin:center">4</div>
<div class="t r" id="t44" style="left:972.71px;top:825.4px;font-size:15px;line-height:15px;font-weight:400;color:#b8b8b8;transform:translateX(-50%) scaleX(0.9100);transform-origin:center">5</div>
<div class="t r" id="t45" style="left:1152.39px;top:825.4px;font-size:15px;line-height:15px;font-weight:400;color:#b8b8b8;transform:translateX(-50%) scaleX(0.9100);transform-origin:center">6</div>
<div class="t r" id="t46" style="left:1260.19px;top:825.4px;font-size:15px;line-height:15px;font-weight:400;color:#b8b8b8;transform:translateX(-50%) scaleX(0.9100);transform-origin:center">7</div>
<div class="t r" id="t47" style="left:1403.93px;top:825.4px;font-size:15px;line-height:15px;font-weight:400;color:#b8b8b8;transform:translateX(-50%) scaleX(0.9100);transform-origin:center">18:13</div>
<div class="t r" id="t48" style="left:1511.74px;top:825.4px;font-size:15px;line-height:15px;font-weight:400;color:#b8b8b8;transform:translateX(-50%) scaleX(0.9100);transform-origin:center">10</div>
<div class="t r" id="t49" style="left:1655.48px;top:825.4px;font-size:15px;line-height:15px;font-weight:400;color:#b8b8b8;transform:translateX(-50%) scaleX(0.9100);transform-origin:center">11</div>
<div class="t r" id="t50" style="left:1835.15px;top:825.4px;font-size:15px;line-height:15px;font-weight:400;color:#b8b8b8;transform:translateX(-50%) scaleX(0.9100);transform-origin:center">12</div>
<div class="t r" id="t51" style="left:1978.89px;top:825.4px;font-size:15px;line-height:15px;font-weight:400;color:#b8b8b8;transform:translateX(-50%) scaleX(0.9100);transform-origin:center">13</div>
<div class="t r" id="t52" style="left:2086.7px;top:825.4px;font-size:15px;line-height:15px;font-weight:400;color:#b8b8b8;transform:translateX(-50%) scaleX(0.9100);transform-origin:center">18:07</div>
<div class="t r" id="t53" style="left:2194.5px;top:825.4px;font-size:15px;line-height:15px;font-weight:400;color:#b8b8b8;transform:translateX(-50%) scaleX(0.9100);transform-origin:center">14</div>
<div class="t r" id="t54" style="left:2302.31px;top:825.4px;font-size:15px;line-height:15px;font-weight:400;color:#b8b8b8;transform:translateX(-50%) scaleX(0.9100);transform-origin:center">17:25</div>
<div class="t r" id="t55" style="left:51.4px;top:873.43px;font-size:16.5px;line-height:16.5px;font-weight:400;color:#e4e4e4;transform:scaleX(1.0462);transform-origin:left">Buy &amp; hold</div>
<div class="t r" id="t56" style="left:241.2px;top:873.43px;font-size:16.5px;line-height:16.5px;font-weight:400;color:#e4e4e4;transform:scaleX(1.0308);transform-origin:left">Run-up e drawdown delle operazioni</div>
<div class="t" id="t57" style="left:2219.7px;top:873.43px;font-size:16.5px;line-height:16.5px;font-weight:700;color:#ffffff;transform:scaleX(0.9400);transform-origin:left">Assoluto</div>
<div class="t r" id="t58" style="left:2311px;top:873.43px;font-size:16.5px;line-height:16.5px;font-weight:400;color:#e4e4e4;transform:scaleX(1.0264);transform-origin:left">Percentuale</div>
</body></html>
